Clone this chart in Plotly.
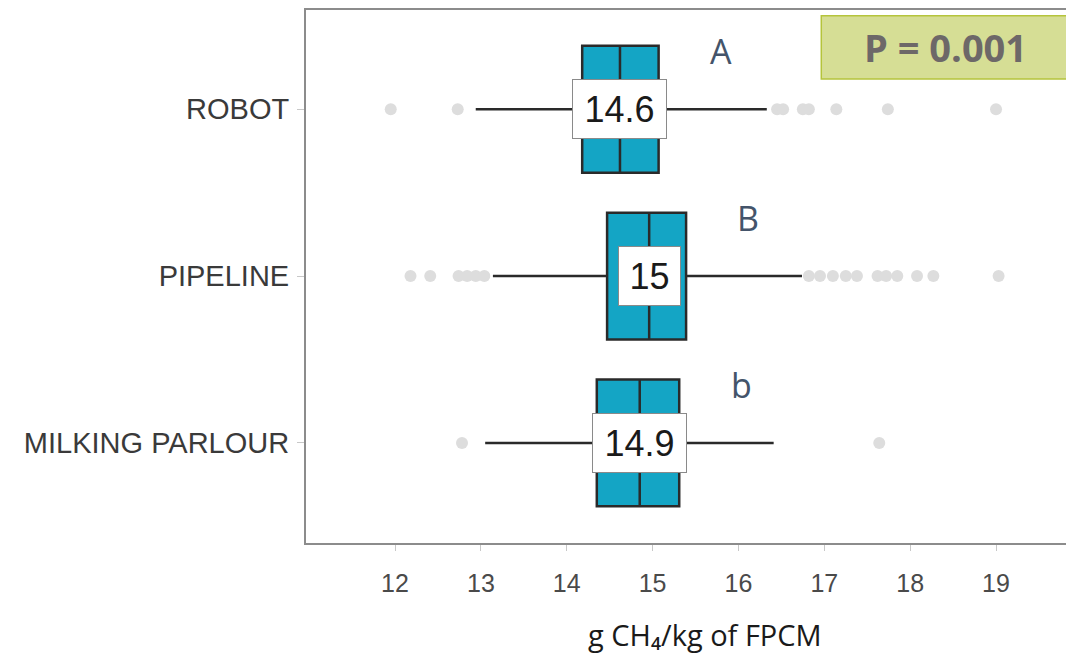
import plotly.graph_objects as go

categories = ["ROBOT", "PIPELINE", "MILKING PARLOUR"]
q1 = [14.18, 14.47, 14.35]
median = [14.62, 14.96, 14.85]
q3 = [15.07, 15.39, 15.31]
lower_fence = [12.94, 13.14, 13.05]
upper_fence = [16.33, 16.74, 16.41]
median_labels = ["14.6", "15", "14.9"]
letters = ["A", "B", "b"]

robot_outliers = [11.95, 12.73, 16.45, 16.52, 16.75, 16.82, 17.14, 17.74, 19.0]
pipeline_outliers = [12.18, 12.41, 12.74, 12.84, 12.94, 13.04,
                     16.82, 16.95, 17.1, 17.25, 17.38, 17.62, 17.72, 17.85,
                     18.08, 18.27, 19.03]
parlour_outliers = [12.78, 17.64]

x_ticks = [12, 13, 14, 15, 16, 17, 18, 19]
p_text = "P = 0.001"
x_title = "g CH\u2084/kg of FPCM"

out_x = robot_outliers + pipeline_outliers + parlour_outliers
out_y = ([categories[0]] * len(robot_outliers) + [categories[1]] * len(pipeline_outliers)
         + [categories[2]] * len(parlour_outliers))

sans = "Liberation Sans, Arial"

fig = go.Figure()
fig.add_trace(go.Scatter(
    x=out_x, y=out_y, mode="markers",
    marker=dict(color="#dddddd", size=12, line=dict(width=0)),
    hoverinfo="skip", showlegend=False))
fig.add_trace(go.Box(
    y=categories, q1=q1, median=median, q3=q3,
    lowerfence=lower_fence, upperfence=upper_fence,
    orientation="h", boxpoints=False, width=0.76, whiskerwidth=0,
    fillcolor="#14a5c5", line=dict(color="#2a2a2a", width=2.5),
    showlegend=False))

annotations = []
for cat, m, lab in zip(categories, median, median_labels):
    annotations.append(dict(
        x=m, y=cat, xref="x", yref="y", text=lab, showarrow=False,
        width=16 * len(lab) + 21, height=50,
        font=dict(family=sans, size=36, color="#1a1a1a"),
        bgcolor="white", bordercolor="#8a8a8a", borderwidth=1, borderpad=4))
for cat, qq, let in zip(categories, q3, letters):
    annotations.append(dict(
        x=qq, y=cat, xref="x", yref="y", text=let, showarrow=False,
        xshift=62, yshift=58,
        font=dict(family="Open Sans", size=34, color="#44546a")))
annotations.append(dict(
    x=0.841, y=0.930, xref="paper", yref="paper", text=p_text,
    xanchor="center", yanchor="middle",
    showarrow=False, font=dict(family="Open Sans", size=38, color="#6d6868", weight="bold")))
annotations.append(dict(
    x=0.525, y=-0.171, xref="paper", yref="paper", text=x_title,
    xanchor="center", yanchor="middle",
    showarrow=False, font=dict(family="Open Sans", size=29, color="#1a1a1a")))

fig.update_layout(
    width=1066, height=653,
    margin=dict(l=306, r=0, t=10, b=110, autoexpand=False),
    paper_bgcolor="white", plot_bgcolor="white",
    showlegend=False,
    annotations=annotations,
    shapes=[dict(type="rect", xref="paper", yref="paper",
                 x0=0.678, x1=1.02, y0=0.8705, y1=0.989,
                 fillcolor="#d6de95", line=dict(color="#b5c43c", width=1.5),
                 layer="below")],
    xaxis=dict(range=[10.963, 19.815], tickvals=x_ticks, showgrid=False, zeroline=False,
               showline=True, mirror=True, linecolor="#8c8c8c", linewidth=2,
               ticks="outside", ticklen=6, tickcolor="#c8c8c8", ticklabelstandoff=11,
               automargin=False,
               tickfont=dict(family=sans, size=25, color="#4a4a4a")),
    yaxis=dict(type="category", categoryorder="array", categoryarray=categories,
               range=[2.6, -0.595], showgrid=False, zeroline=False,
               showline=True, mirror=False, linecolor="#8c8c8c", linewidth=2,
               ticks="outside", ticklen=7, tickcolor="#c8c8c8", ticklabelstandoff=2,
               automargin=False,
               tickfont=dict(family=sans, size=29, color="#3a3a3a")),
)

fig.write_html("out.html")
